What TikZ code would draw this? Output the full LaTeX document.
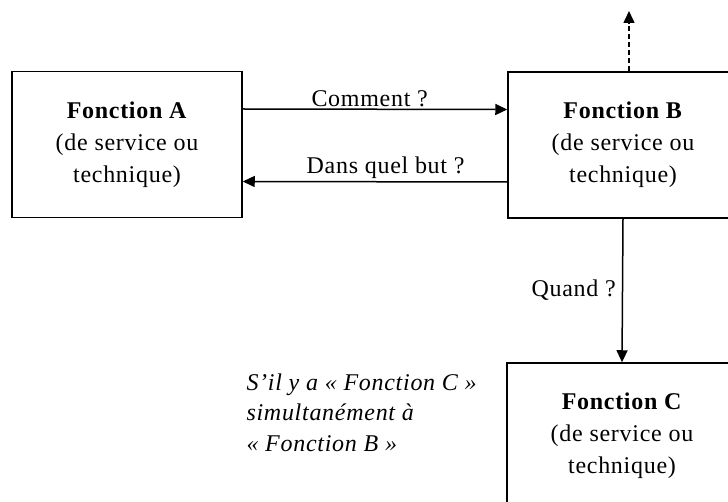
\documentclass[tikz,border=0pt]{standalone}
\usepackage{fontspec}
\setmainfont[LetterSpace=3]{Liberation Serif}
\usetikzlibrary{arrows.meta}

\begin{document}
\begin{tikzpicture}[x=1pt, y=-1pt,
    every node/.style={font=\fontsize{24}{32}\selectfont, text=black},
    fonction/.style={draw, line width=1.5pt, minimum width=230pt, minimum height=146pt, align=center},
    fleche/.style={line width=1.5pt, -{Triangle[length=12pt, width=11pt]}},
    question/.style={inner sep=2pt},
    ]
  \useasboundingbox (0,0) rectangle (728,502);
  \clip (0,0) rectangle (728,502);
  \node[fonction] (fonctionA) at (127,144.5) {\textbf{Fonction A}\\(de service ou\\technique)};
  \node[fonction] (fonctionB) at (623,145) {\textbf{Fonction B}\\(de service ou\\technique)};
  \node[fonction] (fonctionC) at (622,436) {\textbf{Fonction C}\\(de service ou\\technique)};
  \node[anchor=north west, align=left, font=\fontsize{24}{30.5}\selectfont\itshape] (simultane) at (243,370)
      {S’il y a « Fonction C »\\simultanément à\\« Fonction B »};
  \coordinate (haut) at (629,11);
  \draw[fleche] ([yshift=35.5pt]fonctionA.east) -- node[question, above, pos=0.48] {Comment ?} ([yshift=35.5pt]fonctionB.west);
  \draw[fleche] ([yshift=-37pt]fonctionB.west) -- node[question, above, pos=0.46] {Dans quel but ?} ([yshift=-37pt]fonctionA.east);
  \draw[fleche] (fonctionB.south) -- node[question, left, inner sep=6pt] {Quand ?} (fonctionC.north);
  \draw[fleche, dash pattern=on 5pt off 3pt] ([xshift=6pt]fonctionB.north) -- (haut);
\end{tikzpicture}
\end{document}
